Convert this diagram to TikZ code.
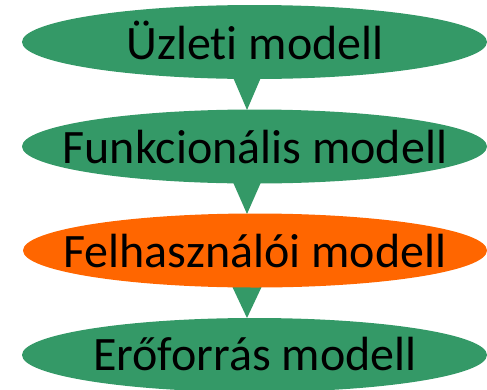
\documentclass[tikz,border=0pt]{standalone}
\usepackage{fontspec}
\setmainfont[Ligatures=CommonOff]{Carlito}
\usetikzlibrary{shapes.geometric}
\definecolor{grn}{RGB}{52,153,103}
\definecolor{org}{RGB}{255,102,0}
\tikzset{x=1pt,y=-1pt,
 ell/.style={ellipse,inner sep=0pt,minimum width=465pt,minimum height=74pt,fill=grn},
 lab/.style={font=\fontsize{48}{48}\selectfont,text=black,inner sep=0pt,anchor=base},
 tri/.style={fill=grn}}
\begin{document}
\begin{tikzpicture}
\useasboundingbox (0,0) rectangle (487,389);
\coordinate (a1) at (232,75); \coordinate (a2) at (262,75); \coordinate (a3) at (247,110);
\coordinate (b1) at (232,180); \coordinate (b2) at (262,180); \coordinate (b3) at (247,214);
\coordinate (c1) at (231,284); \coordinate (c2) at (263,284); \coordinate (c3) at (247,318);
\fill[tri] (a1)--(a2)--(a3)--cycle;
\fill[tri] (b1)--(b2)--(b3)--cycle;
\fill[tri] (c1)--(c2)--(c3)--cycle;
\node[ell] (e1) at (254.5,42) {};
\node[ell] (e2) at (254.5,146.5) {};
\node[ell,fill=org,minimum width=464pt] (e3) at (255,250.5) {};
\node[ell] (e4) at (254.5,355) {};
\node[lab] (t1) at (255,59) {Üzleti modell};
\node[lab] (t2) at (255,163) {Funkcionális modell};
\node[lab] (t3) at (255,267) {Felhasználói modell};
\node[lab] (t4) at (255,370) {Erőforrás modell};
\end{tikzpicture}
\end{document}
